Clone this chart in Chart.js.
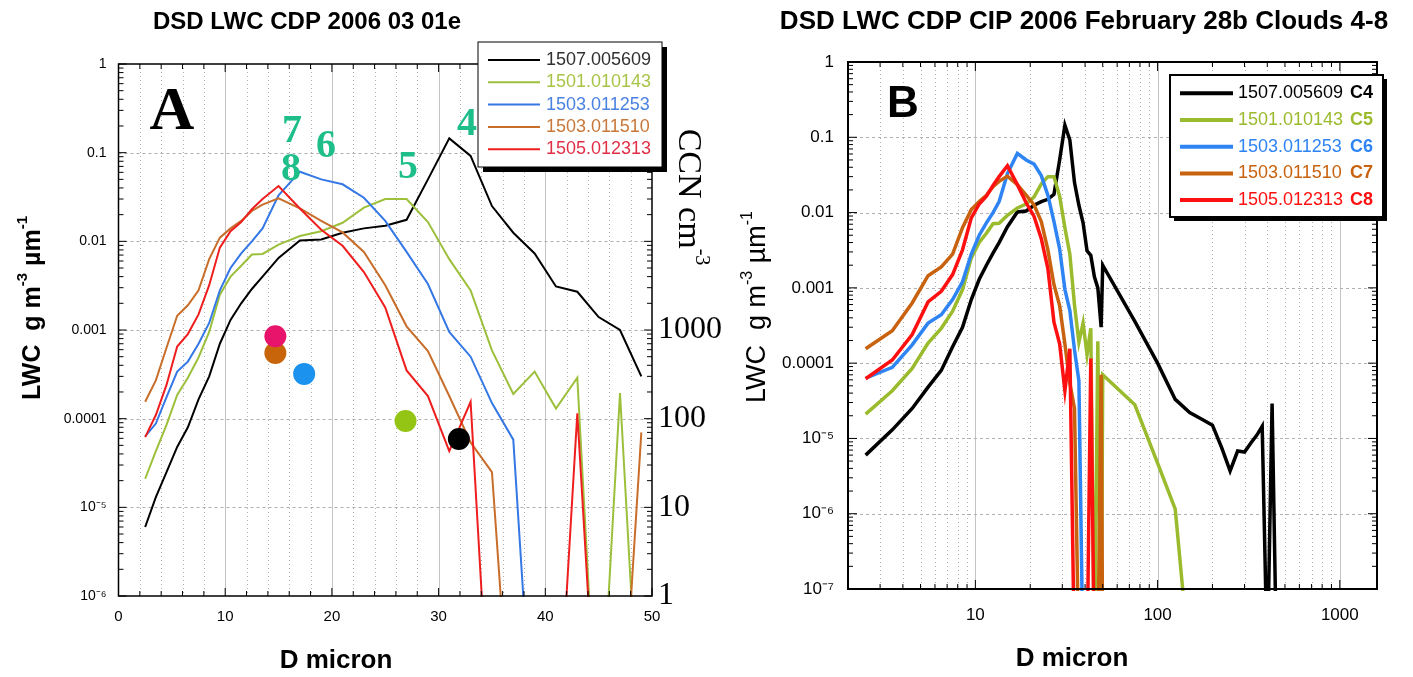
<!DOCTYPE html>
<html>
<head>
<meta charset="utf-8">
<title>DSD LWC CDP / CIP</title>
<script src="https://cdn.jsdelivr.net/npm/chart.js@4.4.1/dist/chart.umd.min.js"></script>
<style>
  html, body { margin: 0; padding: 0; background: #fff; }
  #wrap { position: relative; width: 1413px; height: 677px; overflow: hidden; }
  #chartA { position: absolute; left: 0; top: 0; }
  #chartB { position: absolute; left: 710px; top: 0; }
</style>
</head>
<body>
<div id="wrap">
  <canvas id="chartA" width="730" height="677"></canvas>
  <canvas id="chartB" width="703" height="677"></canvas>
</div>
<script>
// Droplet size distributions (LWC per micron) for clouds C4-C8

// CDP bin mid-points, micron
const dCdp = [2.5, 3.5, 4.5, 5.5, 6.5, 7.5, 8.5, 9.5, 10.5, 11.5, 12.5, 13.5,
  15, 17, 19, 21, 23, 25, 27, 29, 31, 33, 35, 37, 39, 41, 43, 45, 47, 49];

// LWC, g m-3 um-1 (0 = empty bin)
const cdpC4 = [6.0e-6, 1.3e-5, 2.5e-5, 4.8e-5, 8.0e-5, 1.65e-4, 3.0e-4, 7.0e-4, 1.3e-3, 2.0e-3, 2.9e-3, 4.0e-3,
  6.5e-3, 1.02e-2, 1.05e-2, 1.25e-2, 1.4e-2, 1.5e-2, 1.75e-2, 5.0e-2, 0.145, 0.092, 0.025, 1.25e-2,
  7.3e-3, 3.1e-3, 2.7e-3, 1.4e-3, 1.0e-3, 3.0e-4];
const cdpC5 = [2.1e-5, 4.3e-5, 8.5e-5, 1.85e-4, 2.9e-4, 4.9e-4, 9.5e-4, 2.5e-3, 4.0e-3, 5.3e-3, 7.1e-3, 7.2e-3,
  9.2e-3, 1.15e-2, 1.3e-2, 1.62e-2, 2.4e-2, 3.0e-2, 3.0e-2, 1.65e-2, 6.3e-3, 2.8e-3, 5.9e-4, 1.9e-4,
  3.4e-4, 1.3e-4, 2.9e-4, 0, 1.95e-4, 0];
const cdpC6 = [6.3e-5, 8.8e-5, 1.75e-4, 3.4e-4, 4.4e-4, 7.0e-4, 1.2e-3, 2.8e-3, 5.0e-3, 7.3e-3, 1.0e-2, 1.4e-2,
  3.3e-2, 6.1e-2, 5.0e-2, 4.4e-2, 3.1e-2, 1.7e-2, 7.6e-3, 3.3e-3, 9.5e-4, 5.0e-4, 1.5e-4, 5.8e-5,
  0, 0, 0, 0, 0, 0];
const cdpC7 = [1.55e-4, 2.7e-4, 6.3e-4, 1.45e-3, 1.9e-3, 2.8e-3, 6.3e-3, 1.1e-2, 1.4e-2, 1.7e-2, 2.2e-2, 2.6e-2,
  3.05e-2, 2.35e-2, 1.7e-2, 1.26e-2, 7.6e-3, 3.2e-3, 1.1e-3, 5.8e-4, 1.8e-4, 5.4e-5, 2.5e-5, 0,
  0, 0, 0, 0, 0, 7.0e-5];
const cdpC8 = [6.2e-5, 1.1e-4, 2.4e-4, 6.5e-4, 9.0e-4, 1.5e-3, 3.2e-3, 8.5e-3, 1.3e-2, 1.65e-2, 2.3e-2, 3.0e-2,
  4.2e-2, 2.35e-2, 1.35e-2, 8.9e-3, 4.5e-3, 1.8e-3, 3.5e-4, 1.8e-4, 4.3e-5, 1.55e-4, 0, 0,
  0, 0, 1.15e-4, 0, 0, 0];

// CIP bins (panel B only)
const dCip = [50, 75, 100, 125, 150, 175, 200, 225, 250, 275, 300, 325, 350, 375, 400, 425, 450, 475, 500];
const cipC4 = [2.0e-3, 3.6e-4, 1.0e-4, 3.3e-5, 2.2e-5, 1.8e-5, 1.5e-5, 7.5e-6, 3.7e-6, 6.8e-6, 6.6e-6,
  8.7e-6, 1.1e-5, 1.45e-5, 0, 2.9e-5, 0, 0, 0];
const cipC5 = [7.0e-5, 2.8e-5, 4.7e-6, 1.15e-6, 0];
const cipC6 = [0];
const cipC7 = [0];
const cipC8 = [0];

const seriesNames = ['1507.005609', '1501.010143', '1503.011253', '1503.011510', '1505.012313'];
const cloudTags = ['C4', 'C5', 'C6', 'C7', 'C8'];
const cdpSeries = [cdpC4, cdpC5, cdpC6, cdpC7, cdpC8];
const cipSeries = [cipC4, cipC5, cipC6, cipC7, cipC8];

// CCN per cloud (right axis of panel A): C7, C8, C6, C5, C4
const ccnD = [14.7, 14.7, 17.4, 26.9, 31.9];
const ccnValues = [550, 850, 320, 94, 59];

// tick labels
const xTickValsA = [0, 10, 20, 30, 40, 50];
const xTickLabelsA = ['0', '10', '20', '30', '40', '50'];
const yTickValsA = [1e-6, 1e-5, 1e-4, 1e-3, 1e-2, 1e-1, 1];
const yTickLabelsA = ['10\u207B\u2076', '10\u207B\u2075', '0.0001', '0.001', '0.01', '0.1', '1'];
const ccnTickVals = [1, 10, 100, 1000];
const ccnTickLabels = ['1', '10', '100', '1000'];
const xTickValsB = [10, 100, 1000];
const xTickLabelsB = ['10', '100', '1000'];
const yTickValsB = [1e-7, 1e-6, 1e-5, 1e-4, 1e-3, 1e-2, 1e-1, 1];
const yTickLabelsB = ['10\u207B\u2077', '10\u207B\u2076', '10\u207B\u2075', '0.0001', '0.001', '0.01', '0.1', '1'];

// colours
const colorsA = ['#000000', '#9CC03C', '#3578E5', '#C86E2A', '#EE1E1E'];
const legendTextA = ['#303030', '#A8C448', '#4A82E0', '#C8783A', '#E03048'];
const colorsB = ['#000000', '#9BBB2E', '#2F84F4', '#C8620E', '#FF1010'];
const ccnColors = ['#C8640A', '#E8146C', '#1A92EE', '#94C414', '#000000'];

const SANS = "'Liberation Sans', Arial, sans-serif";
const SERIF = "'Liberation Serif', 'Times New Roman', serif";
const FLOOR = 1e-8; // empty bins drop off the bottom of the log axis

Chart.defaults.font.family = SANS;
Chart.defaults.color = '#000';

function pts(xs, ys) {
  return ys.map((v, i) => ({ x: xs[i], y: v > 0 ? v : FLOOR }));
}

// axis decoration helpers
function logMarks(min, max) {
  const out = [];
  for (let e = Math.floor(Math.log10(min)); e <= Math.ceil(Math.log10(max)); e++) {
    for (let k = 1; k < 10; k++) {
      const v = k * Math.pow(10, e);
      if (v >= min * 0.999 && v <= max * 1.001) out.push({ v: v, major: k === 1 });
    }
  }
  return out;
}
function linMarks(min, max, step, majorEvery) {
  const out = [];
  for (let v = min; v <= max; v += step) out.push({ v: v, major: v % majorEvery === 0 });
  return out;
}

function drawRich(ctx, it) {
  const parts = typeof it.text === 'string' ? [{ t: it.text }] : it.text;
  const w8 = it.weight || 'normal';
  const base = w8 + ' ' + it.size + 'px ' + it.family;
  const sup = w8 + ' ' + Math.round(it.size * 0.6) + 'px ' + it.family;
  ctx.save();
  ctx.translate(it.x, it.y);
  if (it.rotate) ctx.rotate(it.rotate);
  ctx.fillStyle = it.color || '#000';
  ctx.textBaseline = 'middle';
  ctx.textAlign = 'left';
  let w = 0;
  parts.forEach(p => { ctx.font = p.sup ? sup : base; w += ctx.measureText(p.t).width; });
  let x = it.align === 'left' ? 0 : (it.align === 'right' ? -w : -w / 2);
  parts.forEach(p => {
    ctx.font = p.sup ? sup : base;
    ctx.fillText(p.t, x, p.sup ? -it.size * 0.4 : 0);
    x += ctx.measureText(p.t).width;
  });
  ctx.restore();
}

const gridPlugin = {
  id: 'paperGrid',
  beforeDatasetsDraw(chart, args, o) {
    const { ctx, chartArea: a, scales } = chart;
    const styles = { solid: ['#c4c4c4', []], dot: ['#b0b0b0', [1, 3]], dash: ['#b0b0b0', [3, 3]] };
    ctx.save();
    ctx.lineWidth = 1;
    o.x.forEach(g => {
      const p = Math.round(scales.x.getPixelForValue(g.v)) + 0.5;
      ctx.strokeStyle = styles[g.s][0];
      ctx.setLineDash(styles[g.s][1]);
      ctx.beginPath(); ctx.moveTo(p, a.top); ctx.lineTo(p, a.bottom); ctx.stroke();
    });
    o.y.forEach(g => {
      const p = Math.round(scales.y.getPixelForValue(g.v)) + 0.5;
      ctx.strokeStyle = styles[g.s][0];
      ctx.setLineDash(styles[g.s][1]);
      ctx.beginPath(); ctx.moveTo(a.left, p); ctx.lineTo(a.right, p); ctx.stroke();
    });
    ctx.restore();
  }
};

const framePlugin = {
  id: 'frame',
  afterDatasetsDraw(chart, args, o) {
    const { ctx, chartArea: a, scales } = chart;
    ctx.save();
    ctx.strokeStyle = '#000';
    ctx.lineWidth = o.tickWidth;
    ctx.beginPath();
    o.xTicks.forEach(t => {
      const p = scales.x.getPixelForValue(t.v);
      const len = t.major ? o.major : o.minor;
      ctx.moveTo(p, a.bottom); ctx.lineTo(p, a.bottom - len);
      ctx.moveTo(p, a.top); ctx.lineTo(p, a.top + len);
    });
    o.yTicks.forEach(t => {
      const p = scales.y.getPixelForValue(t.v);
      const len = t.major ? o.major : o.minor;
      ctx.moveTo(a.left, p); ctx.lineTo(a.left + len, p);
      ctx.moveTo(a.right, p); ctx.lineTo(a.right - len, p);
    });
    ctx.stroke();
    ctx.lineWidth = o.width;
    ctx.strokeRect(a.left, a.top, a.right - a.left, a.bottom - a.top);
    ctx.restore();
  }
};

const textPlugin = {
  id: 'texts',
  afterDraw(chart, args, o) {
    o.items.forEach(it => drawRich(chart.ctx, it));
  }
};

const boxLegend = {
  id: 'boxLegend',
  afterDraw(chart, args, o) {
    const ctx = chart.ctx;
    const sets = chart.data.datasets.filter(ds => ds.type !== 'scatter');
    ctx.save();
    ctx.fillStyle = '#000';
    ctx.fillRect(o.x + o.shadow, o.y + o.shadow, o.w, o.h);
    ctx.fillStyle = '#fff';
    ctx.fillRect(o.x, o.y, o.w, o.h);
    ctx.lineWidth = o.border;
    ctx.strokeStyle = '#000';
    ctx.strokeRect(o.x, o.y, o.w, o.h);
    ctx.textBaseline = 'middle';
    sets.forEach((ds, i) => {
      const y = o.rowY + i * o.rowStep;
      ctx.strokeStyle = ds.borderColor;
      ctx.lineWidth = o.lineWidth;
      ctx.beginPath(); ctx.moveTo(o.lineX0, y); ctx.lineTo(o.lineX1, y); ctx.stroke();
      ctx.font = o.fontSize + 'px ' + SANS;
      ctx.textAlign = 'left';
      ctx.fillStyle = o.textColors ? o.textColors[i] : ds.borderColor;
      ctx.fillText(ds.label, o.textX, y);
      if (o.tags) {
        ctx.font = 'bold ' + o.fontSize + 'px ' + SANS;
        ctx.textAlign = 'right';
        ctx.fillStyle = ds.borderColor;
        ctx.fillText(o.tags[i], o.tagX, y);
      }
    });
    ctx.restore();
  }
};

function fixedTicks(vals) {
  return s => { s.ticks = vals.map(v => ({ value: v })); };
}
const noGrid = { display: false, drawTicks: false };
const noBorder = { display: false };

// ---------- Panel A ----------
const gridXA = linMarks(2, 48, 2, 10).map(m => ({ v: m.v, s: m.major ? 'solid' : 'dot' }));
const gridYA = logMarks(1e-5, 0.1).filter(m => m.major).map(m => ({ v: m.v, s: 'dash' }));

new Chart(document.getElementById('chartA'), {
  type: 'line',
  data: {
    datasets: seriesNames.map((name, i) => ({
      label: name,
      data: pts(dCdp, cdpSeries[i]),
      borderColor: colorsA[i],
      borderWidth: 2,
      pointRadius: 0,
      tension: 0,
      order: 5 - i,
      clip: 1,
      yAxisID: 'y'
    })).concat([{
      type: 'scatter',
      label: 'CCN',
      data: ccnD.map((d, i) => ({ x: d, y: ccnValues[i] })),
      yAxisID: 'yR',
      pointBackgroundColor: ccnColors,
      pointBorderWidth: 0,
      borderColor: 'rgba(0,0,0,0)',
      pointRadius: 11,
      order: 0
    }])
  },
  options: {
    responsive: false,
    animation: false,
    events: [],
    layout: { padding: { top: 64, left: 0, right: 0, bottom: 0 } },
    plugins: {
      legend: { display: false },
      tooltip: { enabled: false },
      paperGrid: { x: gridXA, y: gridYA },
      frame: { xTicks: linMarks(0, 50, 2, 10), yTicks: logMarks(1e-6, 1), major: 8, minor: 5, tickWidth: 1, width: 1.5 },
      texts: {
        items: [
          { text: 'DSD LWC CDP 2006 03 01e', x: 307, y: 22, size: 24, weight: 'bold', family: SANS },
          { text: 'A', x: 172, y: 113, size: 62, weight: 'bold', family: SERIF },
          { text: '7', x: 292, y: 132, size: 40, weight: 'bold', family: SERIF, color: '#1DBE8A' },
          { text: '8', x: 291, y: 170, size: 40, weight: 'bold', family: SERIF, color: '#1DBE8A' },
          { text: '6', x: 326, y: 147, size: 40, weight: 'bold', family: SERIF, color: '#1DBE8A' },
          { text: '5', x: 408, y: 168, size: 40, weight: 'bold', family: SERIF, color: '#1DBE8A' },
          { text: '4', x: 467, y: 125, size: 40, weight: 'bold', family: SERIF, color: '#1DBE8A' },
          { text: [{ t: 'LWC  g m' }, { t: '-3', sup: true }, { t: ' \u00B5m' }, { t: '-1', sup: true }],
            x: 33, y: 308, size: 25, weight: 'bold', family: SANS, rotate: -Math.PI / 2 },
          { text: 'D micron', x: 336, y: 661, size: 26, weight: 'bold', family: SANS },
          { text: [{ t: 'CCN cm' }, { t: '-3', sup: true }], x: 688, y: 197, size: 34, family: SERIF, rotate: Math.PI / 2 }
        ]
      },
      boxLegend: {
        x: 478, y: 42, w: 184, h: 125, shadow: 5, border: 1,
        rowY: 60, rowStep: 22.3, lineX0: 488, lineX1: 540, lineWidth: 2,
        textX: 546, fontSize: 18, textColors: legendTextA
      }
    },
    scales: {
      x: {
        type: 'linear', min: 0, max: 50,
        afterBuildTicks: fixedTicks(xTickValsA),
        afterFit: s => { s.height = 81; },
        ticks: { autoSkip: false, maxRotation: 0, padding: 12, font: { size: 15 }, callback: (v, i) => xTickLabelsA[i] },
        grid: noGrid, border: noBorder
      },
      y: {
        type: 'logarithmic', position: 'left', min: 1e-6, max: 1,
        afterBuildTicks: fixedTicks(yTickValsA),
        afterFit: s => { s.width = 118.5; },
        ticks: { autoSkip: false, padding: 12, font: { size: 14 }, callback: (v, i) => yTickLabelsA[i] },
        grid: noGrid, border: noBorder
      },
      yR: {
        type: 'logarithmic', position: 'right', min: 1, max: 1e6,
        afterBuildTicks: fixedTicks(ccnTickVals),
        afterFit: s => { s.width = 78; },
        ticks: { autoSkip: false, padding: 6, font: { size: 32, family: SERIF }, callback: (v, i) => ccnTickLabels[i] },
        grid: noGrid, border: noBorder
      }
    }
  },
  plugins: [gridPlugin, framePlugin, textPlugin, boxLegend]
});

// ---------- Panel B ----------
const gridXB = logMarks(2, 1600).filter(m => m.v > 2 && m.v < 1600).map(m => ({ v: m.v, s: m.major ? 'solid' : 'dot' }));
const gridYB = logMarks(1e-6, 0.1).filter(m => m.major).map(m => ({ v: m.v, s: 'dash' }));

new Chart(document.getElementById('chartB'), {
  type: 'line',
  data: {
    datasets: seriesNames.map((name, i) => ({
      label: name,
      data: pts(dCdp, cdpSeries[i]).concat(pts(dCip, cipSeries[i])),
      borderColor: colorsB[i],
      borderWidth: 3.5,
      pointRadius: 0,
      tension: 0,
      order: 5 - i,
      clip: 2
    }))
  },
  options: {
    responsive: false,
    animation: false,
    events: [],
    layout: { padding: { top: 62, left: 0, right: 36, bottom: 0 } },
    plugins: {
      legend: { display: false },
      tooltip: { enabled: false },
      paperGrid: { x: gridXB, y: gridYB },
      frame: { xTicks: logMarks(2, 1600), yTicks: logMarks(1e-7, 1), major: 9, minor: 5, tickWidth: 1, width: 2 },
      texts: {
        items: [
          { text: 'DSD LWC CDP CIP 2006 February 28b Clouds 4-8', x: 374, y: 22, size: 26, weight: 'bold', family: SANS },
          { text: 'B', x: 193, y: 105, size: 44, weight: 'bold', family: SANS },
          { text: [{ t: 'LWC  g m' }, { t: '-3', sup: true }, { t: ' \u00B5m' }, { t: '-1', sup: true }],
            x: 48, y: 307, size: 27, family: SANS, rotate: -Math.PI / 2 },
          { text: 'D micron', x: 362, y: 659, size: 26, weight: 'bold', family: SANS }
        ]
      },
      boxLegend: {
        x: 460, y: 75, w: 213, h: 142, shadow: 4, border: 2,
        rowY: 93.3, rowStep: 26.7, lineX0: 470, lineX1: 523, lineWidth: 4,
        textX: 528, fontSize: 18, tags: cloudTags, tagX: 663
      }
    },
    scales: {
      x: {
        type: 'logarithmic', min: 2, max: 1600,
        afterBuildTicks: fixedTicks(xTickValsB),
        afterFit: s => { s.height = 88; },
        ticks: { autoSkip: false, maxRotation: 0, padding: 16, font: { size: 17 }, callback: (v, i) => xTickLabelsB[i] },
        grid: noGrid, border: noBorder
      },
      y: {
        type: 'logarithmic', position: 'left', min: 1e-7, max: 1,
        afterBuildTicks: fixedTicks(yTickValsB),
        afterFit: s => { s.width = 138; },
        ticks: { autoSkip: false, padding: 14, font: { size: 17 }, callback: (v, i) => yTickLabelsB[i] },
        grid: noGrid, border: noBorder
      }
    }
  },
  plugins: [gridPlugin, framePlugin, textPlugin, boxLegend]
});
</script>
</body>
</html>
